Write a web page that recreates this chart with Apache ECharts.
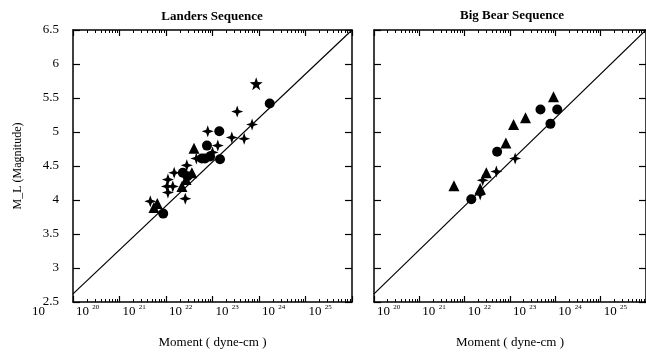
<!DOCTYPE html>
<html><head><meta charset="utf-8">
<script src="https://cdn.jsdelivr.net/npm/echarts@6/dist/echarts.min.js"></script>
<style>html,body{margin:0;padding:0;background:#fff}#c{width:646px;height:354px}</style>
</head><body><div id="c"></div>
<script>
// Moment (dyne-cm) vs M_L
const landersCircles = [[1.7e24,5.42],[1.4e23,5.01],[7.6e22,4.80],[1.45e23,4.60],[5.9e22,4.61],[6.9e22,4.61],[8.9e22,4.64],[2.3e22,4.40],[2.9e22,4.35],[8.7e21,3.80]];
const landersPluses = [[3.4e23,5.30],[7.1e23,5.11],[4.8e23,4.90],[2.6e23,4.92],[7.9e22,5.01],[1.3e23,4.80],[1.0e23,4.70],[4.5e22,4.61],[2.8e22,4.51],[1.5e22,4.40],[1.1e22,4.30],[1.05e22,4.20],[1.4e22,4.20],[1.1e22,4.11],[2.6e22,4.02],[4.6e21,3.98]];
const landersTriangles = [[4.0e22,4.76],[3.6e22,4.40],[2.2e22,4.20],[2.7e22,4.30],[5.5e21,3.89],[6.5e21,3.95]];
const landersStars = [[8.7e23,5.71]];
const bigBearCircles = [[4.7e23,5.33],[1.1e24,5.33],[7.8e23,5.12],[5.2e22,4.71],[1.4e22,4.01]];
const bigBearTriangles = [[9.1e23,5.52],[2.2e23,5.21],[1.2e23,5.11],[8.1e22,4.84],[3.0e22,4.40],[2.2e22,4.17],[5.8e21,4.21]];
const bigBearPluses = [[1.3e23,4.61],[5.0e22,4.42],[2.2e22,4.08],[2.5e22,4.29]];
const refLine = [[1e20,2.62],[1e26,6.5]];
const panelTitles = ['Landers Sequence','Big Bear Sequence'];
const xName = 'Moment ( dyne-cm )';
const yName = 'M_L (Magnitude)';

const FONT = '"Liberation Serif", "DejaVu Serif", serif';
const plusPath = 'path://M0,-10 L2.6,-2.6 L10,0 L2.6,2.6 L0,10 L-2.6,2.6 L-10,0 L-2.6,-2.6 Z';
const starPath = 'path://M0,-10 L2.35,-3.24 L9.51,-3.09 L3.8,1.24 L5.88,8.09 L0,4 L-5.88,8.09 L-3.8,1.24 L-9.51,-3.09 L-2.35,-3.24 Z';

const chart = echarts.init(document.getElementById('c'), null, {renderer:'canvas'});

function xAxisCfg(gi, pos, showLabel, withName) {
  return {
    type:'log', logBase:10, gridIndex:gi, position:pos, min:1e20, max:1e26,
    axisLine:{show:true, onZero:false, lineStyle:{color:'#000', width:1.5}},
    axisTick:{show:true, inside:true, length:6, lineStyle:{color:'#000', width:1.2}},
    minorTick:{show:true, splitNumber:9, length:3, lineStyle:{color:'#000', width:1}},
    splitLine:{show:false}, minorSplitLine:{show:false},
    axisLabel:{show:showLabel, showMaxLabel:false, align:'left', margin:2, padding:[0,0,0,3],
      formatter:function(v){ return '{b|10} {s|' + Math.round(Math.log10(v)) + '}'; },
      rich:{ b:{fontFamily:FONT, fontSize:13, color:'#000', lineHeight:16},
             s:{fontFamily:FONT, fontSize:7, color:'#000', verticalAlign:'top', lineHeight:8} } },
    name: withName ? xName : '', nameLocation:'middle', nameGap:34,
    nameTextStyle:{fontFamily:FONT, fontSize:13, color:'#000'}
  };
}
function yAxisCfg(gi, pos, showLabel, withName) {
  return {
    type:'value', gridIndex:gi, position:pos, min:2.5, max:6.5, interval:0.5,
    axisLine:{show:true, onZero:false, lineStyle:{color:'#000', width:1.5}},
    axisTick:{show:true, inside:true, length:7, lineStyle:{color:'#000', width:1.2}},
    splitLine:{show:false},
    axisLabel:{show:showLabel, margin:14, fontFamily:FONT, fontSize:13, color:'#000',
      formatter:function(v){ return String(v); }},
    name: withName ? yName : '', nameLocation:'middle', nameGap:49, nameRotate:90,
    nameTextStyle:{fontFamily:FONT, fontSize:12, color:'#000'}
  };
}
function scat(name, data, xi, yi, symbol, size) {
  return {type:'scatter', name:name, data:data, xAxisIndex:xi, yAxisIndex:yi,
    symbol:symbol, symbolSize:size, itemStyle:{color:'#000', opacity:1}, silent:true, z:5};
}
function lineSeries(xi, yi) {
  return {type:'line', data:refLine, xAxisIndex:xi, yAxisIndex:yi, showSymbol:false, symbol:'none',
    lineStyle:{color:'#000', width:1.2}, silent:true, z:3, clip:true};
}

chart.setOption({
  animation:false,
  backgroundColor:'#fff',
  grid:[
    {left:73, top:30, width:279, height:273},
    {left:374, top:30, width:274, height:273}
  ],
  xAxis:[
    xAxisCfg(0,'bottom',true,true), xAxisCfg(0,'top',false,false),
    xAxisCfg(1,'bottom',true,true), xAxisCfg(1,'top',false,false)
  ],
  yAxis:[
    yAxisCfg(0,'left',true,true), yAxisCfg(0,'right',false,false),
    yAxisCfg(1,'left',false,false), yAxisCfg(1,'right',false,false)
  ],
  graphic:[
    {type:'text', x:212, y:17, style:{text:panelTitles[0], font:'bold 13px ' + FONT, fill:'#000', textAlign:'center', textVerticalAlign:'middle'}},
    {type:'text', x:512, y:16, style:{text:panelTitles[1], font:'bold 13px ' + FONT, fill:'#000', textAlign:'center', textVerticalAlign:'middle'}},
    {type:'text', x:32, y:305, style:{text:'10', font:'13px ' + FONT, fill:'#000', textAlign:'left', textVerticalAlign:'top'}}
  ],
  series:[
    lineSeries(0,0),
    scat('Landers circles', landersCircles, 0, 0, 'circle', 10),
    scat('Landers pluses', landersPluses, 0, 0, plusPath, 12),
    scat('Landers triangles', landersTriangles, 0, 0, 'triangle', 11),
    scat('Landers stars', landersStars, 0, 0, starPath, 13),
    lineSeries(2,2),
    scat('Big Bear circles', bigBearCircles, 2, 2, 'circle', 10),
    scat('Big Bear triangles', bigBearTriangles, 2, 2, 'triangle', 11),
    scat('Big Bear pluses', bigBearPluses, 2, 2, plusPath, 12)
  ]
});
</script></body></html>
